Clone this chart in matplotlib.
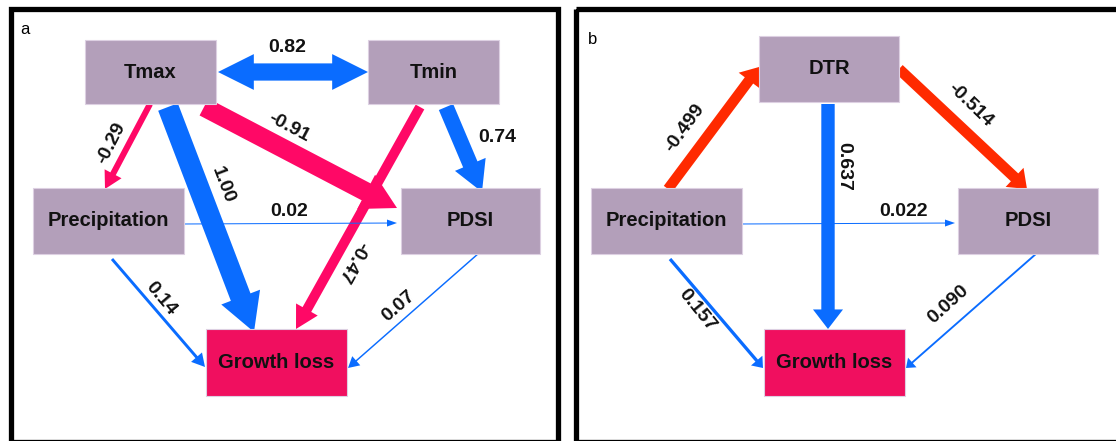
import matplotlib

matplotlib.use("Agg")
import matplotlib.pyplot as plt
from matplotlib.patches import FancyArrow, Rectangle

plt.rcParams["font.family"] = ["Liberation Sans", "DejaVu Sans"]

# path coefficients, panel a
NODES_A = ["Tmax", "Tmin", "Precipitation", "PDSI", "Growth loss"]
EDGE_SRC_A = ["Tmax", "Tmax", "Tmax", "Tmin", "Tmin", "Precipitation", "Precipitation", "PDSI"]
EDGE_DST_A = ["Precipitation", "Growth loss", "PDSI", "Growth loss", "PDSI", "PDSI", "Growth loss", "Growth loss"]
COEF_A = [-0.29, 1.00, -0.91, -0.47, 0.74, 0.02, 0.14, 0.07]
LABEL_A = ["-0.29", "1.00", "-0.91", "-0.47", "0.74", "0.02", "0.14", "0.07"]
CORR_A = 0.82  # Tmax <-> Tmin

# path coefficients, panel b
NODES_B = ["DTR", "Precipitation", "PDSI", "Growth loss"]
EDGE_SRC_B = ["Precipitation", "DTR", "DTR", "Precipitation", "Precipitation", "PDSI"]
EDGE_DST_B = ["DTR", "PDSI", "Growth loss", "PDSI", "Growth loss", "Growth loss"]
COEF_B = [-0.499, -0.514, 0.637, 0.022, 0.157, 0.090]
LABEL_B = ["-0.499", "-0.514", "0.637", "0.022", "0.157", "0.090"]

# layout in pixels (x0, y0, x1, y1), y grows downwards
BOX_A = {
    "Tmax": (85, 40, 216, 104),
    "Tmin": (368, 40, 499, 104),
    "Precipitation": (33, 188, 184, 254),
    "PDSI": (401, 188, 540, 254),
    "Growth loss": (206, 329, 347, 396),
}
BOX_B = {
    "DTR": (759, 36, 899, 102),
    "Precipitation": (591, 188, 742, 254),
    "PDSI": (958, 188, 1098, 254),
    "Growth loss": (764, 329, 905, 396),
}
# arrow start/end points and label placement (x, y, rotation)
PATH_A = [
    ((150, 104), (105, 189), (111, 143, 63)),
    ((168, 107), (254, 332), (223, 185, -69)),
    ((204, 107), (397, 208), (289, 127, -28)),
    ((420, 107), (296, 329), (352, 262, -119)),
    ((446, 107), (482, 192), (497, 137, 0)),
    ((182, 224), (397, 223), (289, 211, 0)),
    ((112, 259), (205, 367), (161, 299, -50)),
    ((479, 253), (348, 368), (399, 306, 41)),
]
PATH_B = [
    ((668, 189), (759, 67), (685, 128, 54)),
    ((899, 69), (1027, 189), (970, 105, -44)),
    ((828, 104), (828, 329), (844, 166, -90)),
    ((739, 224), (955, 223), (904, 211, 0)),
    ((670, 259), (763, 368), (697, 310, -51)),
    ((1037, 253), (906, 368), (948, 304, 42)),
]
CORR_PATH_A = ((218, 72), (368, 72), (287, 47))

BOX_FILL = "#b39fba"
TARGET_FILL = "#f00f5f"
POS_COLOR = "#0a6cff"
NEG_COLOR_A = "#ff0866"
NEG_COLOR_B = "#ff2a00"


def arrow_width(c):
    return max(1.0, 21.0 * abs(c))


def draw_arrow(ax, p0, p1, c, color, head_ratio):
    w = arrow_width(c)
    hw = 1.5 * w + 10 if abs(c) >= 0.05 else 7
    hl = hw * head_ratio if abs(c) >= 0.05 else 10
    ax.add_patch(FancyArrow(p0[0], p0[1], p1[0] - p0[0], p1[1] - p0[1],
                            width=w, head_width=hw, head_length=hl,
                            length_includes_head=True, color=color, lw=0, zorder=2))


def draw_boxes(ax, boxes):
    for name, (x0, y0, x1, y1) in boxes.items():
        fill = TARGET_FILL if name == "Growth loss" else BOX_FILL
        ax.add_patch(Rectangle((x0, y0), x1 - x0, y1 - y0, facecolor=fill,
                               edgecolor="#ddd0e2", lw=0.8, zorder=3))
        ax.text((x0 + x1) / 2, (y0 + y1) / 2, name, ha="center", va="center",
                fontsize=14.5, fontweight="bold", color="#111111", zorder=4)


def draw_panel(ax, boxes, src, dst, coefs, labels, paths, neg_color, head_ratio):
    draw_boxes(ax, boxes)
    for s, d, c, lab, (p0, p1, (tx, ty, rot)) in zip(src, dst, coefs, labels, paths):
        color = POS_COLOR if c > 0 else neg_color
        draw_arrow(ax, p0, p1, c, color, head_ratio)
        ax.text(tx, ty, lab, ha="center", va="center", rotation=rot,
                rotation_mode="anchor", fontsize=14, fontweight="bold",
                color="#111111", zorder=4)


fig = plt.figure(figsize=(11.16, 4.41), dpi=100)
ax = fig.add_axes([0, 0, 1, 1])
ax.set_xlim(0, 1116)
ax.set_ylim(441, 0)
ax.axis("off")

# panel frames
ax.add_patch(Rectangle((10.5, 8.5), 547, 433, fill=False, edgecolor="black", lw=3.8, zorder=1))
ax.add_patch(Rectangle((576, 8.5), 560, 433, fill=False, edgecolor="black", lw=3.8, zorder=1))
ax.text(20, 30, "a", fontsize=12, ha="left", va="center")
ax.text(588, 39, "b", fontsize=12, ha="left", va="center")

draw_panel(ax, BOX_A, EDGE_SRC_A, EDGE_DST_A, COEF_A, LABEL_A, PATH_A, NEG_COLOR_A, 0.9)
draw_panel(ax, BOX_B, EDGE_SRC_B, EDGE_DST_B, COEF_B, LABEL_B, PATH_B, NEG_COLOR_B, 0.65)

# double-headed correlation arrow between Tmax and Tmin
(c0, c1, (lx, ly)) = CORR_PATH_A
mid = ((c0[0] + c1[0]) / 2, c0[1])
draw_arrow(ax, mid, c0, CORR_A, POS_COLOR, 1.0)
draw_arrow(ax, mid, c1, CORR_A, POS_COLOR, 1.0)
ax.text(lx, ly, f"{CORR_A:.2f}", ha="center", va="center", fontsize=14,
        fontweight="bold", color="#111111", zorder=4)

fig.savefig("out.png", dpi=100)
